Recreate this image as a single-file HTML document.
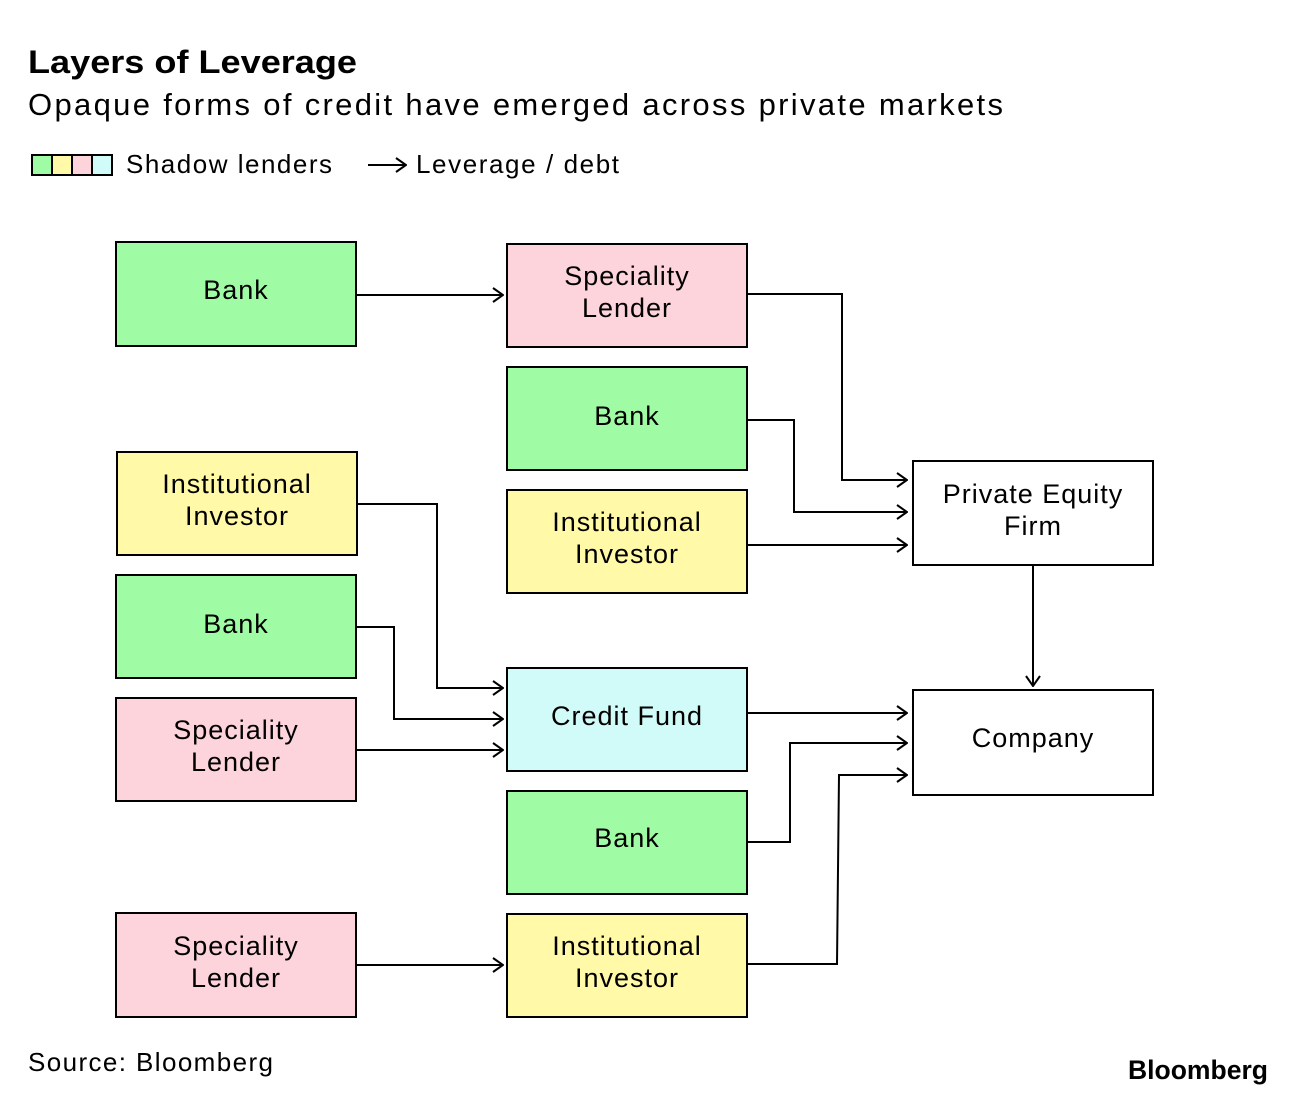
<!DOCTYPE html>
<html><head><style>
body{margin:0;background:#fff;}
svg text{font-family:"Liberation Sans",sans-serif;}
</style></head><body>
<svg width="1296" height="1096" viewBox="0 0 1296 1096" xmlns="http://www.w3.org/2000/svg">
<defs>
<marker id="a" markerWidth="12" markerHeight="16" refX="11" refY="8" orient="auto" markerUnits="userSpaceOnUse">
<path d="M1,1 L11,8 L1,15" fill="none" stroke="#000" stroke-width="2"/>
</marker>
</defs>
<text x="28" y="73" font-size="32" font-weight="bold" textLength="329" lengthAdjust="spacingAndGlyphs">Layers of Leverage</text>
<text x="28" y="115" font-size="31" textLength="975" lengthAdjust="spacing">Opaque forms of credit have emerged across private markets</text>
<g stroke="#000" stroke-width="2">
<rect x="32" y="155" width="20" height="20" fill="#a0fca4"/>
<rect x="52" y="155" width="20" height="20" fill="#fff9a8"/>
<rect x="72" y="155" width="20" height="20" fill="#fdd3dc"/>
<rect x="92" y="155" width="20" height="20" fill="#d1fbf8"/>
</g>
<text x="126" y="173" font-size="26" textLength="206" lengthAdjust="spacing">Shadow lenders</text>
<line x1="368" y1="165" x2="406" y2="165" stroke="#000" stroke-width="2" marker-end="url(#a)"/>
<text x="416" y="173" font-size="26" textLength="203" lengthAdjust="spacing">Leverage / debt</text>

<g stroke="#000" stroke-width="2">
<rect x="116" y="242" width="240" height="104" fill="#a0fca4"/>
<rect x="117" y="452" width="240" height="103" fill="#fff9a8"/>
<rect x="116" y="575" width="240" height="103" fill="#a0fca4"/>
<rect x="116" y="698" width="240" height="103" fill="#fdd3dc"/>
<rect x="116" y="913" width="240" height="104" fill="#fdd3dc"/>
<rect x="507" y="244" width="240" height="103" fill="#fdd3dc"/>
<rect x="507" y="367" width="240" height="103" fill="#a0fca4"/>
<rect x="507" y="490" width="240" height="103" fill="#fff9a8"/>
<rect x="507" y="668" width="240" height="103" fill="#d1fbf8"/>
<rect x="507" y="791" width="240" height="103" fill="#a0fca4"/>
<rect x="507" y="914" width="240" height="103" fill="#fff9a8"/>
<rect x="913" y="461" width="240" height="104" fill="#fff"/>
<rect x="913" y="690" width="240" height="105" fill="#fff"/>
</g>
<g font-size="27" text-anchor="middle" letter-spacing="1">
<text x="236" y="299">Bank</text>
<text x="237" y="493">Institutional</text><text x="237" y="525">Investor</text>
<text x="236" y="633">Bank</text>
<text x="236" y="739">Speciality</text><text x="236" y="771">Lender</text>
<text x="236" y="955">Speciality</text><text x="236" y="987">Lender</text>
<text x="627" y="285">Speciality</text><text x="627" y="317">Lender</text>
<text x="627" y="425">Bank</text>
<text x="627" y="531">Institutional</text><text x="627" y="563">Investor</text>
<text x="627" y="725">Credit Fund</text>
<text x="627" y="847">Bank</text>
<text x="627" y="955">Institutional</text><text x="627" y="987">Investor</text>
<text x="1033" y="503">Private Equity</text><text x="1033" y="535">Firm</text>
<text x="1033" y="747">Company</text>
</g>
<g stroke="#000" stroke-width="2" fill="none" marker-end="url(#a)">
<path d="M357 295 H503"/>
<path d="M748 294 H842 V480 H907"/>
<path d="M748 420 H794 V512 H907"/>
<path d="M748 545 H907"/>
<path d="M358 504 H437 V688 H503"/>
<path d="M357 627 H394 V719 H503"/>
<path d="M357 750 H503"/>
<path d="M748 713 H907"/>
<path d="M748 842 H790 V743 H907"/>
<path d="M748 964 H837 L839 775 H907"/>
<path d="M357 965 H503"/>
<path d="M1033 566 V686"/>
</g>
<text x="28" y="1071" font-size="26" textLength="245" lengthAdjust="spacing">Source: Bloomberg</text>
<text x="1128" y="1079" font-size="27" font-weight="bold" textLength="140" lengthAdjust="spacingAndGlyphs">Bloomberg</text>
</svg>
</body></html>
